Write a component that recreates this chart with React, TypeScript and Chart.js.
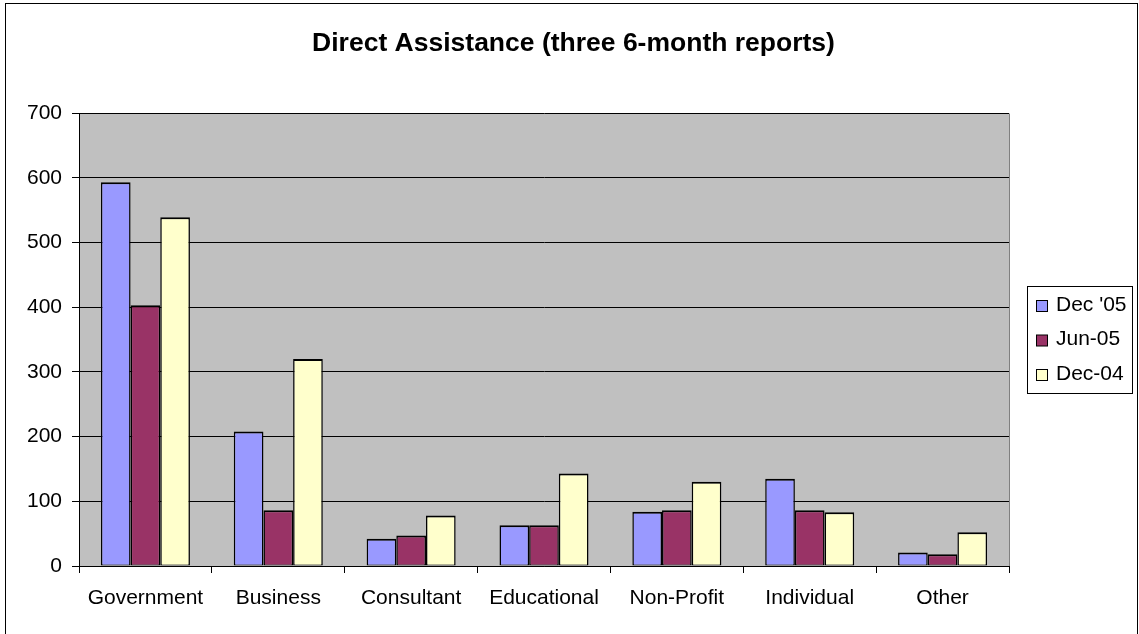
import React, { useEffect, useRef } from "react";
import { Chart, registerables } from "chart.js";

Chart.register(...registerables);

const categories = ["Government", "Business", "Consultant", "Educational", "Non-Profit", "Individual", "Other"];
const seriesNames = ["Dec '05", "Jun-05", "Dec-04"];
const dec05 = [593, 208, 42, 63, 84, 135, 21];
const jun05 = [403, 86, 47, 63, 86, 86, 18];
const dec04 = [539, 320, 78, 143, 130, 83, 52];
const seriesColors = ["#9999FF", "#993366", "#FFFFCC"];
const titleText = "Direct Assistance (three 6-month reports)";
const yMax = 700;
const yStep = 100;

const FONT = "'Liberation Sans', Arial, sans-serif";

export default function App() {
  const ref = useRef<HTMLCanvasElement | null>(null);

  useEffect(() => {
    const canvas = ref.current;
    if (!canvas) return;

    const decor = {
      id: "decor",
      beforeDraw(chart: any) {
        const { ctx, chartArea } = chart;
        ctx.save();
        ctx.fillStyle = "#FFFFFF";
        ctx.fillRect(0, 0, chart.width, chart.height);
        ctx.fillStyle = "#C0C0C0";
        ctx.fillRect(chartArea.left, chartArea.top, chartArea.right - chartArea.left, chartArea.bottom - chartArea.top);
        // outer border
        ctx.strokeStyle = "#000";
        ctx.lineWidth = 1;
        ctx.strokeRect(5.5, 3.5, 1132, 660);
        // title
        ctx.fillStyle = "#000";
        ctx.font = "bold 26.5px " + FONT;
        ctx.textAlign = "center";
        ctx.textBaseline = "alphabetic";
        ctx.fillText(titleText, 573.5, 51);
        ctx.restore();
      },
      afterDraw(chart: any) {
        const { ctx, chartArea } = chart;
        ctx.save();
        // plot border right grey
        ctx.strokeStyle = "#808080";
        ctx.lineWidth = 1;
        ctx.beginPath();
        ctx.moveTo(Math.round(chartArea.right) + 0.5, Math.round(chartArea.top) + 0.5);
        ctx.lineTo(Math.round(chartArea.right) + 0.5, Math.round(chartArea.bottom));
        ctx.stroke();
        // legend
        ctx.strokeStyle = "#000";
        ctx.strokeRect(1027.5, 286.5, 105, 107);
        ctx.font = "21px " + FONT;
        ctx.textAlign = "left";
        ctx.textBaseline = "middle";
        const rows = [305, 339.5, 374];
        seriesNames.forEach((name, i) => {
          ctx.fillStyle = seriesColors[i];
          ctx.fillRect(1036.5, rows[i] - 4.5, 11, 11);
          ctx.strokeStyle = "#000";
          ctx.strokeRect(1036.5, rows[i] - 4.5, 11, 11);
          ctx.fillStyle = "#000";
          ctx.fillText(name, 1056, rows[i]);
        });
        ctx.restore();
      },
    };

    const chart = new Chart(canvas, {
      type: "bar",
      data: {
        labels: categories,
        datasets: [dec05, jun05, dec04].map((d, i) => ({
          label: seriesNames[i],
          data: d,
          backgroundColor: seriesColors[i],
          borderColor: "#000",
          borderWidth: { top: 2, left: 1.5, right: 1.5, bottom: 1 },
          borderSkipped: false,
          categoryPercentage: 0.67,
          barPercentage: 1,
        })),
      },
      options: {
        animation: false,
        responsive: false,
        devicePixelRatio: 1,
        layout: { padding: { left: 0, top: 113, right: 130, bottom: 0 } },
        plugins: {
          legend: { display: false },
          title: { display: false },
          tooltip: { enabled: false },
        },
        scales: {
          x: {
            grid: { display: true, drawOnChartArea: false, drawTicks: true, tickLength: 7, color: "#000", offset: true },
            border: { display: true, color: "#000", width: 1 },
            ticks: { color: "#000", font: { family: FONT, size: 21 }, padding: 13, maxRotation: 0, autoSkip: false },
            afterFit(scale: any) {
              scale.height = 68;
            },
          },
          y: {
            min: 0,
            max: yMax,
            grid: { color: "#000", tickLength: 7, drawTicks: true },
            border: { display: true, color: "#000", width: 1 },
            ticks: { stepSize: yStep, color: "#000", font: { family: FONT, size: 21 }, padding: 10 },
            afterFit(scale: any) {
              scale.width = 79;
            },
          },
        },
      },
      plugins: [decor],
    } as any);

    return () => chart.destroy();
  }, []);

  return (
    <div style={{ position: "fixed", left: 0, top: 0, width: 1139, height: 634 }}>
      <canvas ref={ref} width={1139} height={634} style={{ width: 1139, height: 634, display: "block" }} />
    </div>
  );
}
